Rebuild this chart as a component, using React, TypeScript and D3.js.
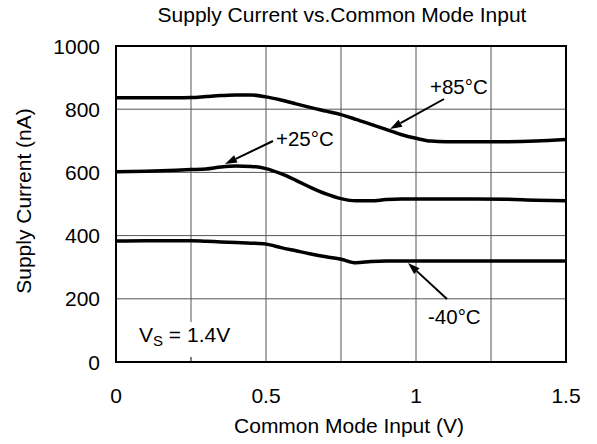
import React from "react";
import * as d3 from "d3";

const W = 597;
const H = 444;

const xValues = [0, 0.1, 0.2, 0.25, 0.3, 0.35, 0.4, 0.45, 0.5, 0.55, 0.6, 0.65, 0.7, 0.75, 0.8, 0.85, 0.9, 0.95, 1.0, 1.05, 1.1, 1.2, 1.3, 1.4, 1.5];
const series85 = [836, 836, 836, 837, 840, 843, 845, 845, 839, 829, 817, 805, 794, 783, 768, 752, 736, 720, 708, 699, 697, 697, 697, 699, 704];
const series25 = [602, 604, 607, 609, 611, 617, 620, 619, 612, 596, 575, 552, 532, 517, 510, 510, 514, 516, 516, 516, 516, 516, 515, 512, 510];
const seriesM40 = [383, 384, 384, 384, 382, 380, 378, 376, 373, 362, 352, 342, 333, 325, 314, 318, 320, 320, 320, 320, 320, 320, 320, 320, 320];

const xTicks = [0, 0.5, 1, 1.5];
const xGrid = [0.25, 0.5, 0.75, 1, 1.25];
const yTicks = [0, 200, 400, 600, 800, 1000];
const xTickLabels = ["0", "0.5", "1", "1.5"];

const FONT = "'Liberation Sans', Arial, Helvetica, sans-serif";

export default function App() {
  const x = d3.scaleLinear().domain([0, 1.5]).range([116, 566]);
  const y = d3.scaleLinear().domain([0, 1000]).range([362, 46]);
  const line = d3
    .line<number>()
    .x((_, i) => x(xValues[i]))
    .y((d) => y(d))
    .curve(d3.curveMonotoneX);

  const arrow = (x1: number, y1: number, x2: number, y2: number) => {
    const ang = Math.atan2(y2 - y1, x2 - x1);
    const L = 12;
    const hw = 4;
    const bx = x2 - L * Math.cos(ang);
    const by = y2 - L * Math.sin(ang);
    const px = -Math.sin(ang) * hw;
    const py = Math.cos(ang) * hw;
    return (
      <g>
        <line x1={x1} y1={y1} x2={bx} y2={by} stroke="#000" strokeWidth={2} />
        <path d={`M${x2},${y2}L${bx + px},${by + py}L${bx - px},${by - py}Z`} fill="#000" />
      </g>
    );
  };

  return (
    <svg width={W} height={H} style={{ position: "absolute", left: 0, top: 0, background: "#fff" }} fontFamily={FONT}>
      <rect x={0} y={0} width={W} height={H} fill="#fff" />
      {xGrid.map((v) => (
        <line key={"gx" + v} x1={x(v)} x2={x(v)} y1={y(1000)} y2={y(0)} stroke="#555" strokeWidth={1} />
      ))}
      {yTicks.slice(1, -1).map((v) => (
        <line key={"gy" + v} x1={x(0)} x2={x(1.5)} y1={y(v)} y2={y(v)} stroke="#555" strokeWidth={1} />
      ))}
      <rect x={132} y={322} width={112} height={35} fill="#fff" />
      <line x1={x(0.25)} x2={x(0.25)} y1={357} y2={y(0)} stroke="#555" strokeWidth={1} />
      {[series85, series25, seriesM40].map((s, i) => (
        <path key={"c" + i} d={line(s) || ""} fill="none" stroke="#000" strokeWidth={3.5} strokeLinejoin="round" />
      ))}
      <rect x={x(0)} y={y(1000)} width={x(1.5) - x(0)} height={y(0) - y(1000)} fill="none" stroke="#000" strokeWidth={2} />
      {yTicks.map((v) => (
        <text key={"yt" + v} x={100} y={y(v) + 7.5} textAnchor="end" fontSize={21} fill="#000">
          {v}
        </text>
      ))}
      {xTicks.map((v, i) => (
        <text key={"xt" + v} x={x(v)} y={403} textAnchor="middle" fontSize={21} fill="#000">
          {xTickLabels[i]}
        </text>
      ))}
      <text x={342} y={22} textAnchor="middle" fontSize={21} fill="#000">
        Supply Current vs.Common Mode Input
      </text>
      <text x={349} y={433} textAnchor="middle" fontSize={21} fill="#000">
        Common Mode Input (V)
      </text>
      <text transform={`translate(31,201) rotate(-90)`} textAnchor="middle" fontSize={21} fill="#000">
        Supply Current (nA)
      </text>
      <text x={430} y={94} fontSize={20.5} fill="#000">+85°C</text>
      {arrow(444, 99, 390, 129)}
      <text x={276} y={146} fontSize={20.5} fill="#000">+25°C</text>
      {arrow(273, 141, 225, 164)}
      <text x={428} y={324} fontSize={20.5} fill="#000">-40°C</text>
      {arrow(447, 299, 408, 263)}
      <text x={139} y={342} fontSize={21} fill="#000">
        V<tspan fontSize={15} dy={4}>S</tspan>
        <tspan dy={-4}> = 1.4V</tspan>
      </text>
    </svg>
  );
}
